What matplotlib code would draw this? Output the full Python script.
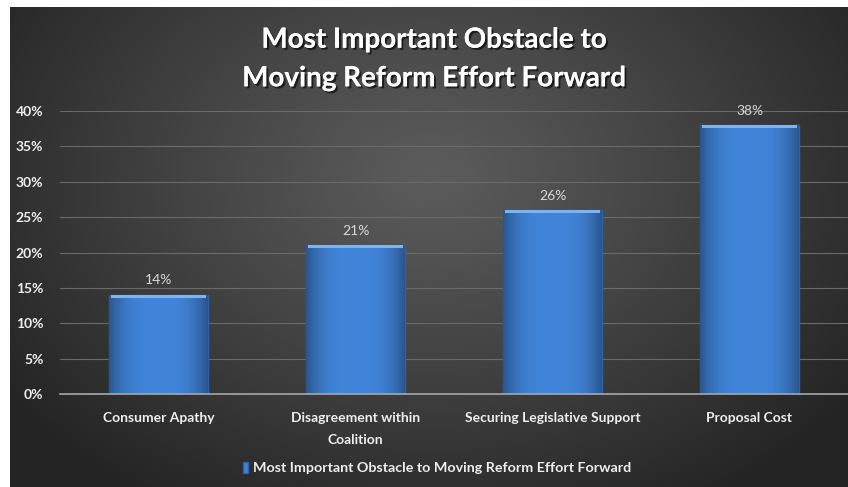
import numpy as np
import matplotlib
matplotlib.use("Agg")
import matplotlib.pyplot as plt
import matplotlib.patheffects as pe
from matplotlib.patches import Rectangle

categories = ["Consumer Apathy", "Disagreement within\nCoalition",
              "Securing Legislative Support", "Proposal Cost"]
values = [0.14, 0.21, 0.26, 0.38]
value_labels = ["14%", "21%", "26%", "38%"]
yticks = [0, 0.05, 0.10, 0.15, 0.20, 0.25, 0.30, 0.35, 0.40]
ytick_labels = ["0%", "5%", "10%", "15%", "20%", "25%", "30%", "35%", "40%"]
title = "Most Important Obstacle to\nMoving Reform Effort Forward"
series_name = "Most Important Obstacle to Moving Reform Effort Forward"

FONT = ["Lato", "DejaVu Sans"]
W, H = 848, 487
fig = plt.figure(figsize=(W / 100, H / 100), dpi=100)
fig.patch.set_facecolor("white")

# background panel with radial gradient
bg = fig.add_axes([10 / W, 0, (W - 10) / W, (H - 7) / H])
ny, nx = 300, 500
yy, xx = np.mgrid[0:ny, 0:nx]
cx, cy = nx * 0.5, ny * 0.35
r = np.sqrt(((xx - cx) / (nx * 0.62)) ** 2 + ((yy - cy) / (ny * 0.8)) ** 2)
r = np.clip(r, 0, 1)
inner = np.array([0x5c, 0x5c, 0x5c]) / 255
outer = np.array([0x24, 0x24, 0x24]) / 255
img = inner[None, None, :] * (1 - r[..., None] ** 1.1) + outer[None, None, :] * (r[..., None] ** 1.1)
bg.imshow(img, aspect="auto", extent=[0, 1, 0, 1], origin="upper")
bg.set_axis_off()

ax = fig.add_axes([60 / W, (H - 394) / H, (W - 60) / W, (394 - 111) / H])
ax.set_facecolor("none")
x = np.arange(len(categories))
bars = ax.bar(x, values, width=0.5, color="#3f83d8", edgecolor="#2b62ad",
              linewidth=1.0, zorder=3)
# bar shading: gradient + top bevel highlight
for b in bars:
    bx, by, bw, bh = b.get_x(), b.get_y(), b.get_width(), b.get_height()
    grad = np.linspace(0, 1, 100)
    shade = 1 - 0.35 * (np.abs(grad - 0.5) * 2) ** 3
    col = np.array([0x41, 0x85, 0xda]) / 255
    gimg = (col[None, :] * shade[:, None])[None, :, :]
    gimg = np.repeat(gimg, 2, axis=0)
    im = ax.imshow(gimg, extent=[bx, bx + bw, by, by + bh], aspect="auto", zorder=3.5)
    im.set_clip_path(b)
    ax.add_patch(Rectangle((bx + 0.01, by + bh - 0.004), bw - 0.02, 0.004,
                           facecolor="#7fb3ef", edgecolor="none", zorder=4))

for xi, v, lab in zip(x, values, value_labels):
    ax.text(xi, v + 0.012, lab, ha="center", va="bottom", color="#d8d8d8",
            fontsize=10, family=FONT, zorder=5)

ax.set_xlim(-0.5, len(categories) - 0.5)
ax.set_ylim(0, 0.40)
ax.set_yticks(yticks)
ax.set_yticklabels(ytick_labels)
ax.set_xticks(x)
ax.set_xticklabels(categories)
for lab in ax.get_yticklabels() + ax.get_xticklabels():
    lab.set_family(FONT)
    lab.set_fontweight("bold")
    lab.set_color("#eeeeee")
    lab.set_fontsize(10)
for lab in ax.get_xticklabels():
    lab.set_linespacing(2.0)
ax.tick_params(axis="both", length=0)
ax.tick_params(axis="y", pad=12)
ax.tick_params(axis="x", pad=13)
ax.grid(axis="y", color="#6a6a6a", linewidth=0.8, zorder=0)
ax.set_axisbelow(True)
for s in ["top", "right", "left"]:
    ax.spines[s].set_visible(False)
ax.spines["bottom"].set_color("#a8a8a8")
ax.spines["bottom"].set_linewidth(1.2)
ax.spines["bottom"].set_zorder(6)

fig.text(434 / W, 1 - 59 / H, title, ha="center", va="center", color="white",
         fontsize=20, fontweight="bold", family=FONT, linespacing=1.6,
         path_effects=[pe.withSimplePatchShadow(offset=(1.5, -1.5), shadow_rgbFace="black", alpha=0.6),
                       pe.Normal()])

leg = fig.legend([Rectangle((0, 0), 1, 1, facecolor="#3f83d8", edgecolor="#2b62ad")],
                 [series_name], loc="center", bbox_to_anchor=(437 / W, 1 - 468 / H),
                 frameon=False, handlelength=0.35, handleheight=0.9, handletextpad=0.4,
                 prop={"family": FONT, "weight": "bold", "size": 10.3})
for t in leg.get_texts():
    t.set_color("#eeeeee")

fig.savefig("out.png", dpi=100, facecolor=fig.get_facecolor())
